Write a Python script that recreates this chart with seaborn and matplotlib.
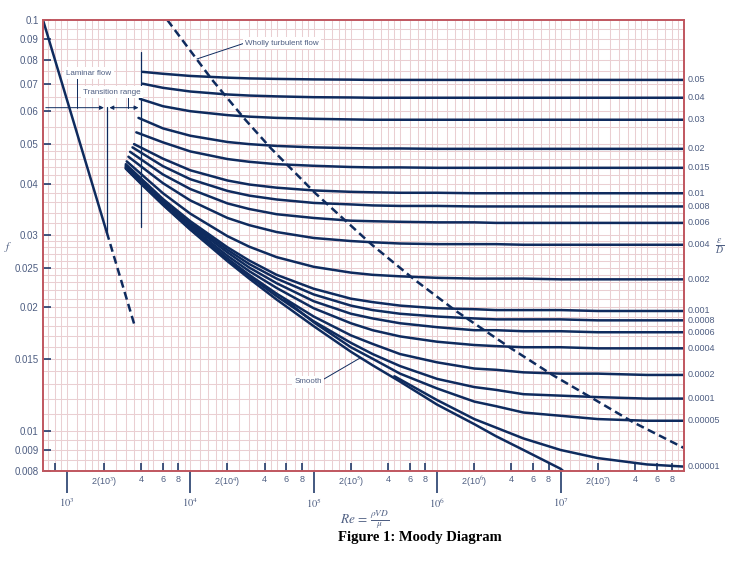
import numpy as np
import pandas as pd
import seaborn as sns
import matplotlib.pyplot as plt
from matplotlib import transforms

# values
ROUGHNESS = ["0.05", "0.04", "0.03", "0.02", "0.015", "0.01", "0.008", "0.006",
             "0.004", "0.002", "0.001", "0.0008", "0.0006", "0.0004", "0.0002",
             "0.0001", "0.00005", "0.00001"]
RE_START = [4100, 4100, 3900, 3800, 3650, 3500, 3400, 3250, 3150, 3050,
            3000, 3000, 3000, 3000, 3000, 3000, 5.8e4, 4.5e5]
F_START = [0.0748, 0.0700, 0.0643, 0.0578, 0.0533, 0.0499, 0.0490, 0.0478,
           0.0465, 0.0453, 0.0446, 0.0443, 0.0441, 0.0439, 0.0437, 0.0436,
           0.0209, 0.0136]
RE_GRID = [6e3, 1e4, 2e4, 3e4, 5e4, 1e5, 2e5, 3e5, 5e5, 1e6, 2e6, 3e6, 5e6, 1e7, 2e7, 5e7, 1e8]
nan = np.nan
F_CURVES = [
    [0.0740, 0.0731, 0.0724, 0.0721, 0.0719, 0.0717, 0.0716, 0.0715, 0.0715, 0.0715, 0.0715, 0.0715, 0.0715, 0.0715, 0.0715, 0.0715, 0.0715],
    [0.0684, 0.0670, 0.0659, 0.0655, 0.0652, 0.0649, 0.0648, 0.0647, 0.0647, 0.0647, 0.0647, 0.0647, 0.0647, 0.0647, 0.0647, 0.0647, 0.0647],
    [0.0617, 0.0600, 0.0587, 0.0582, 0.0578, 0.0575, 0.0573, 0.0572, 0.0572, 0.0572, 0.0572, 0.0572, 0.0572, 0.0572, 0.0572, 0.0572, 0.0572],
    [0.0545, 0.0523, 0.0505, 0.0499, 0.0494, 0.0490, 0.0488, 0.0487, 0.0487, 0.0486, 0.0486, 0.0486, 0.0486, 0.0486, 0.0486, 0.0486, 0.0486],
    [0.0504, 0.0479, 0.0459, 0.0452, 0.0446, 0.0442, 0.0439, 0.0438, 0.0438, 0.0437, 0.0437, 0.0437, 0.0437, 0.0437, 0.0437, 0.0437, 0.0437],
    [0.0460, 0.0431, 0.0407, 0.0398, 0.0391, 0.0385, 0.0382, 0.0381, 0.0380, 0.0380, 0.0379, 0.0379, 0.0379, 0.0379, 0.0379, 0.0379, 0.0379],
    [0.0441, 0.0410, 0.0384, 0.0374, 0.0366, 0.0359, 0.0356, 0.0354, 0.0353, 0.0353, 0.0352, 0.0352, 0.0352, 0.0352, 0.0352, 0.0352, 0.0352],
    [0.0421, 0.0388, 0.0358, 0.0347, 0.0337, 0.0330, 0.0325, 0.0324, 0.0323, 0.0322, 0.0322, 0.0321, 0.0321, 0.0321, 0.0321, 0.0321, 0.0321],
    [0.0401, 0.0364, 0.0330, 0.0317, 0.0305, 0.0295, 0.0290, 0.0288, 0.0286, 0.0285, 0.0285, 0.0285, 0.0284, 0.0284, 0.0284, 0.0284, 0.0284],
    [0.0379, 0.0338, 0.0298, 0.0281, 0.0265, 0.0251, 0.0243, 0.0240, 0.0238, 0.0236, 0.0235, 0.0235, 0.0235, 0.0234, 0.0234, 0.0234, 0.0234],
    [0.0367, 0.0324, 0.0280, 0.0260, 0.0240, 0.0222, 0.0210, 0.0206, 0.0202, 0.0199, 0.0198, 0.0197, 0.0197, 0.0197, 0.0196, 0.0196, 0.0196],
    [0.0364, 0.0321, 0.0276, 0.0255, 0.0235, 0.0215, 0.0202, 0.0197, 0.0193, 0.0190, 0.0188, 0.0187, 0.0187, 0.0187, 0.0186, 0.0186, 0.0186],
    [0.0362, 0.0318, 0.0272, 0.0250, 0.0229, 0.0207, 0.0193, 0.0188, 0.0183, 0.0179, 0.0176, 0.0176, 0.0175, 0.0175, 0.0174, 0.0174, 0.0174],
    [0.0360, 0.0315, 0.0267, 0.0245, 0.0223, 0.0199, 0.0183, 0.0176, 0.0170, 0.0165, 0.0162, 0.0161, 0.0160, 0.0160, 0.0159, 0.0159, 0.0159],
    [0.0358, 0.0312, 0.0263, 0.0240, 0.0216, 0.0190, 0.0171, 0.0163, 0.0154, 0.0147, 0.0142, 0.0141, 0.0139, 0.0138, 0.0138, 0.0137, 0.0137],
    [0.0356, 0.0310, 0.0261, 0.0238, 0.0213, 0.0185, 0.0164, 0.0154, 0.0144, 0.0134, 0.0128, 0.0126, 0.0123, 0.0122, 0.0121, 0.0120, 0.0120],
    [nan, nan, nan, nan, nan, 0.0184, 0.0160, 0.0150, 0.0138, 0.0127, 0.0118, 0.0115, 0.0111, 0.0109, 0.0107, 0.0106, 0.0106],
    [nan, nan, nan, nan, nan, nan, nan, nan, nan, 0.0119, 0.0107, 0.0102, 0.0096, 0.0090, 0.0086, 0.0083, 0.0082],
]
RE_SMOOTH = [3000, 4000, 6e3, 1e4, 2e4, 3e4, 5e4, 1e5, 2e5, 3e5, 5e5, 1e6, 2e6, 3e6, 5e6, 1e7, 1.05e7]
F_SMOOTH = [0.0435, 0.0399, 0.0355, 0.0309, 0.0259, 0.0235, 0.0209, 0.0180, 0.0156, 0.01446,
            0.0132, 0.0116, 0.0104, 0.00972, 0.0090, 0.0081, 0.0080]
RE_LAMINAR = [640, 2100]
F_LAMINAR = [0.1, 0.0305]
RE_LAM_DASH = [2100, 3550]
F_LAM_DASH = [0.0305, 0.0180]
RE_TURB = [6510, 14980, 27900, 45400, 1.03e5, 2.96e5, 6.5e5, 1.42e6, 3.97e6, 8.6e6, 1.83e7, 3.9e7, 1e8]
F_TURB = [0.1, 0.0716, 0.0572, 0.0486, 0.0379, 0.0284, 0.0234, 0.0196, 0.0159, 0.0137, 0.0120, 0.0105, 0.0091]

Y_TICKS = [0.008, 0.009, 0.01, 0.015, 0.02, 0.025, 0.03, 0.04, 0.05, 0.06, 0.07, 0.08, 0.09, 0.1]
Y_LABELS = ["0.008", "0.009", "0.01", "0.015", "0.02", "0.025", "0.03", "0.04", "0.05",
            "0.06", "0.07", "0.08", "0.09", "0.1"]

NAVY = "#0f2b5e"
TXT = "#4e5e82"
RED = "#c0565f"
GRID = "#eacfd2"

sns.set_theme(style="white")
plt.rcParams["font.family"] = ["Liberation Sans", "DejaVu Sans"]
plt.rcParams["mathtext.fontset"] = "stix"

fig = plt.figure(figsize=(7.29, 5.73), dpi=100)
ax = fig.add_axes([43 / 729, 1 - 471 / 573, 641 / 729, 451 / 573])
ax.set_xscale("log")
ax.set_yscale("log")
ax.set_xlim(640, 1e8)
ax.set_ylim(0.008, 0.1)

# pink graph-paper grid
for dec in [100, 1e3, 1e4, 1e5, 1e6, 1e7]:
    for m in [1, 1.2, 1.4, 1.6, 1.8, 2, 2.5, 3, 3.5, 4, 4.5, 5, 6, 7, 8, 9]:
        ax.axvline(dec * m, color=GRID, lw=0.75, zorder=0)
hgrid = (list(np.arange(0.008, 0.01, 0.0005)) + list(np.arange(0.01, 0.03, 0.001))
         + list(np.arange(0.03, 0.05, 0.002)) + list(np.arange(0.05, 0.1, 0.005)))
for h in hgrid:
    ax.axhline(h, color=GRID, lw=0.75, zorder=0)

# roughness curves
rows = []
for lab, r0, f0, fs in zip(ROUGHNESS, RE_START, F_START, F_CURVES):
    rows.append((lab, r0, f0))
    for r, f in zip(RE_GRID, fs):
        if not np.isnan(f) and r > r0:
            rows.append((lab, r, f))
df = pd.DataFrame(rows, columns=["eps", "Re", "f"])
sns.lineplot(data=df, x="Re", y="f", units="eps", estimator=None, sort=False,
             color=NAVY, lw=1.8, ax=ax, legend=False)
sns.lineplot(x=RE_SMOOTH, y=F_SMOOTH, color=NAVY, lw=1.8, ax=ax, sort=False)
sns.lineplot(x=RE_LAMINAR, y=F_LAMINAR, color=NAVY, lw=1.8, ax=ax, sort=False)
ax.plot(RE_LAM_DASH, F_LAM_DASH, color=NAVY, lw=1.8, linestyle=(0, (3.2, 1.8)))
ax.plot(RE_TURB, F_TURB, color=NAVY, lw=1.8, linestyle=(0, (3.2, 1.8)))

# right-hand roughness labels
trans = transforms.blended_transform_factory(ax.transAxes, ax.transData)
for lab, fs in zip(ROUGHNESS, F_CURVES):
    ax.text(1.005, fs[-1], lab, transform=trans, ha="left", va="center",
            fontsize=6.5, color=TXT)

# transition markers
ax.plot([2100, 2100], [0.0614, 0.0303], color=NAVY, lw=0.9)
ax.plot([4000, 4000], [0.0836, 0.0314], color=NAVY, lw=0.9)
ax.annotate("", xy=(2100, 0.0612), xytext=(640, 0.0612),
            arrowprops=dict(arrowstyle="-|>", color=NAVY, lw=0.7, mutation_scale=6))
ax.annotate("", xy=(4000, 0.0612), xytext=(2100, 0.0612),
            arrowprops=dict(arrowstyle="<|-|>", color=NAVY, lw=0.7, mutation_scale=6))
ax.plot([1206, 1206], [0.0723, 0.0612], color=NAVY, lw=0.7)
ax.plot([3124, 3124], [0.0650, 0.0612], color=NAVY, lw=0.7)

box = dict(facecolor="white", edgecolor="none", pad=1.5)
ax.text(1509, 0.0743, "Laminar flow", fontsize=5.8, color=TXT, ha="center", va="center", bbox=box)
ax.text(2317, 0.0668, "Transition range", fontsize=5.8, color=TXT, ha="center", va="center", bbox=box)
ax.plot([26700, 11320], [0.0876, 0.0804], color=NAVY, lw=0.7)
ax.text(55280, 0.0879, "Wholly turbulent flow", fontsize=5.8, color=TXT, ha="center", va="center", bbox=box)
ax.plot([1.21e5, 2.37e5], [0.01339, 0.01506], color=NAVY, lw=0.7)
ax.text(89800, 0.01317, "Smooth", fontsize=5.8, color=TXT, ha="center", va="center", bbox=box)

# ticks (lengths in points)
ax.set_yticks(Y_TICKS)
ax.set_yticklabels(Y_LABELS)
ax.yaxis.set_minor_locator(plt.NullLocator())
ax.tick_params(axis="y", which="major", direction="in", length=6, width=1.1,
               color=NAVY, labelcolor=TXT, labelsize=7, pad=3, left=True)

ax.set_xticks([1e3, 1e4, 1e5, 1e6, 1e7])
ax.set_xticklabels(["$10^3$", "$10^4$", "$10^5$", "$10^6$", "$10^7$"])
minor_pos = [800]
minor_lab = [""]
for n in range(3, 8):
    for m in [2, 4, 6, 8]:
        minor_pos.append(m * 10 ** n)
        minor_lab.append("2(10$^{%d}$)" % n if m == 2 else str(m))
ax.set_xticks(minor_pos, minor=True)
ax.set_xticklabels(minor_lab, minor=True)
ax.tick_params(axis="x", which="major", direction="out", length=16, width=1.1,
               color=NAVY, labelcolor=TXT, labelsize=7.5, pad=2, bottom=True)
ax.tick_params(axis="x", which="minor", direction="in", length=6, width=1.1,
               color=NAVY, labelcolor=TXT, labelsize=6.5, pad=3, bottom=True)
ax.set_xlabel("")
ax.set_ylabel("")

for s in ax.spines.values():
    s.set_color(RED)
    s.set_linewidth(1.4)
    s.set_visible(True)

fig.text(8 / 729, 1 - 247 / 573, "$f$", fontsize=8, color=TXT, ha="center", va="center")
fig.text(720 / 729, 1 - 247 / 573, r"$\frac{\varepsilon}{D}$", fontsize=10, color=TXT,
         ha="center", va="center")
fig.text(365 / 729, 1 - 520 / 573, r"$Re\,=\,\frac{\rho VD}{\mu}$", fontsize=9.5, color=TXT,
         ha="center", va="center")
fig.text(420 / 729, 1 - 538 / 573, "Figure 1: Moody Diagram", fontsize=10.5,
         fontweight="bold", family="Liberation Serif", ha="center", va="center", color="black")

fig.savefig("out.png", dpi=100)
